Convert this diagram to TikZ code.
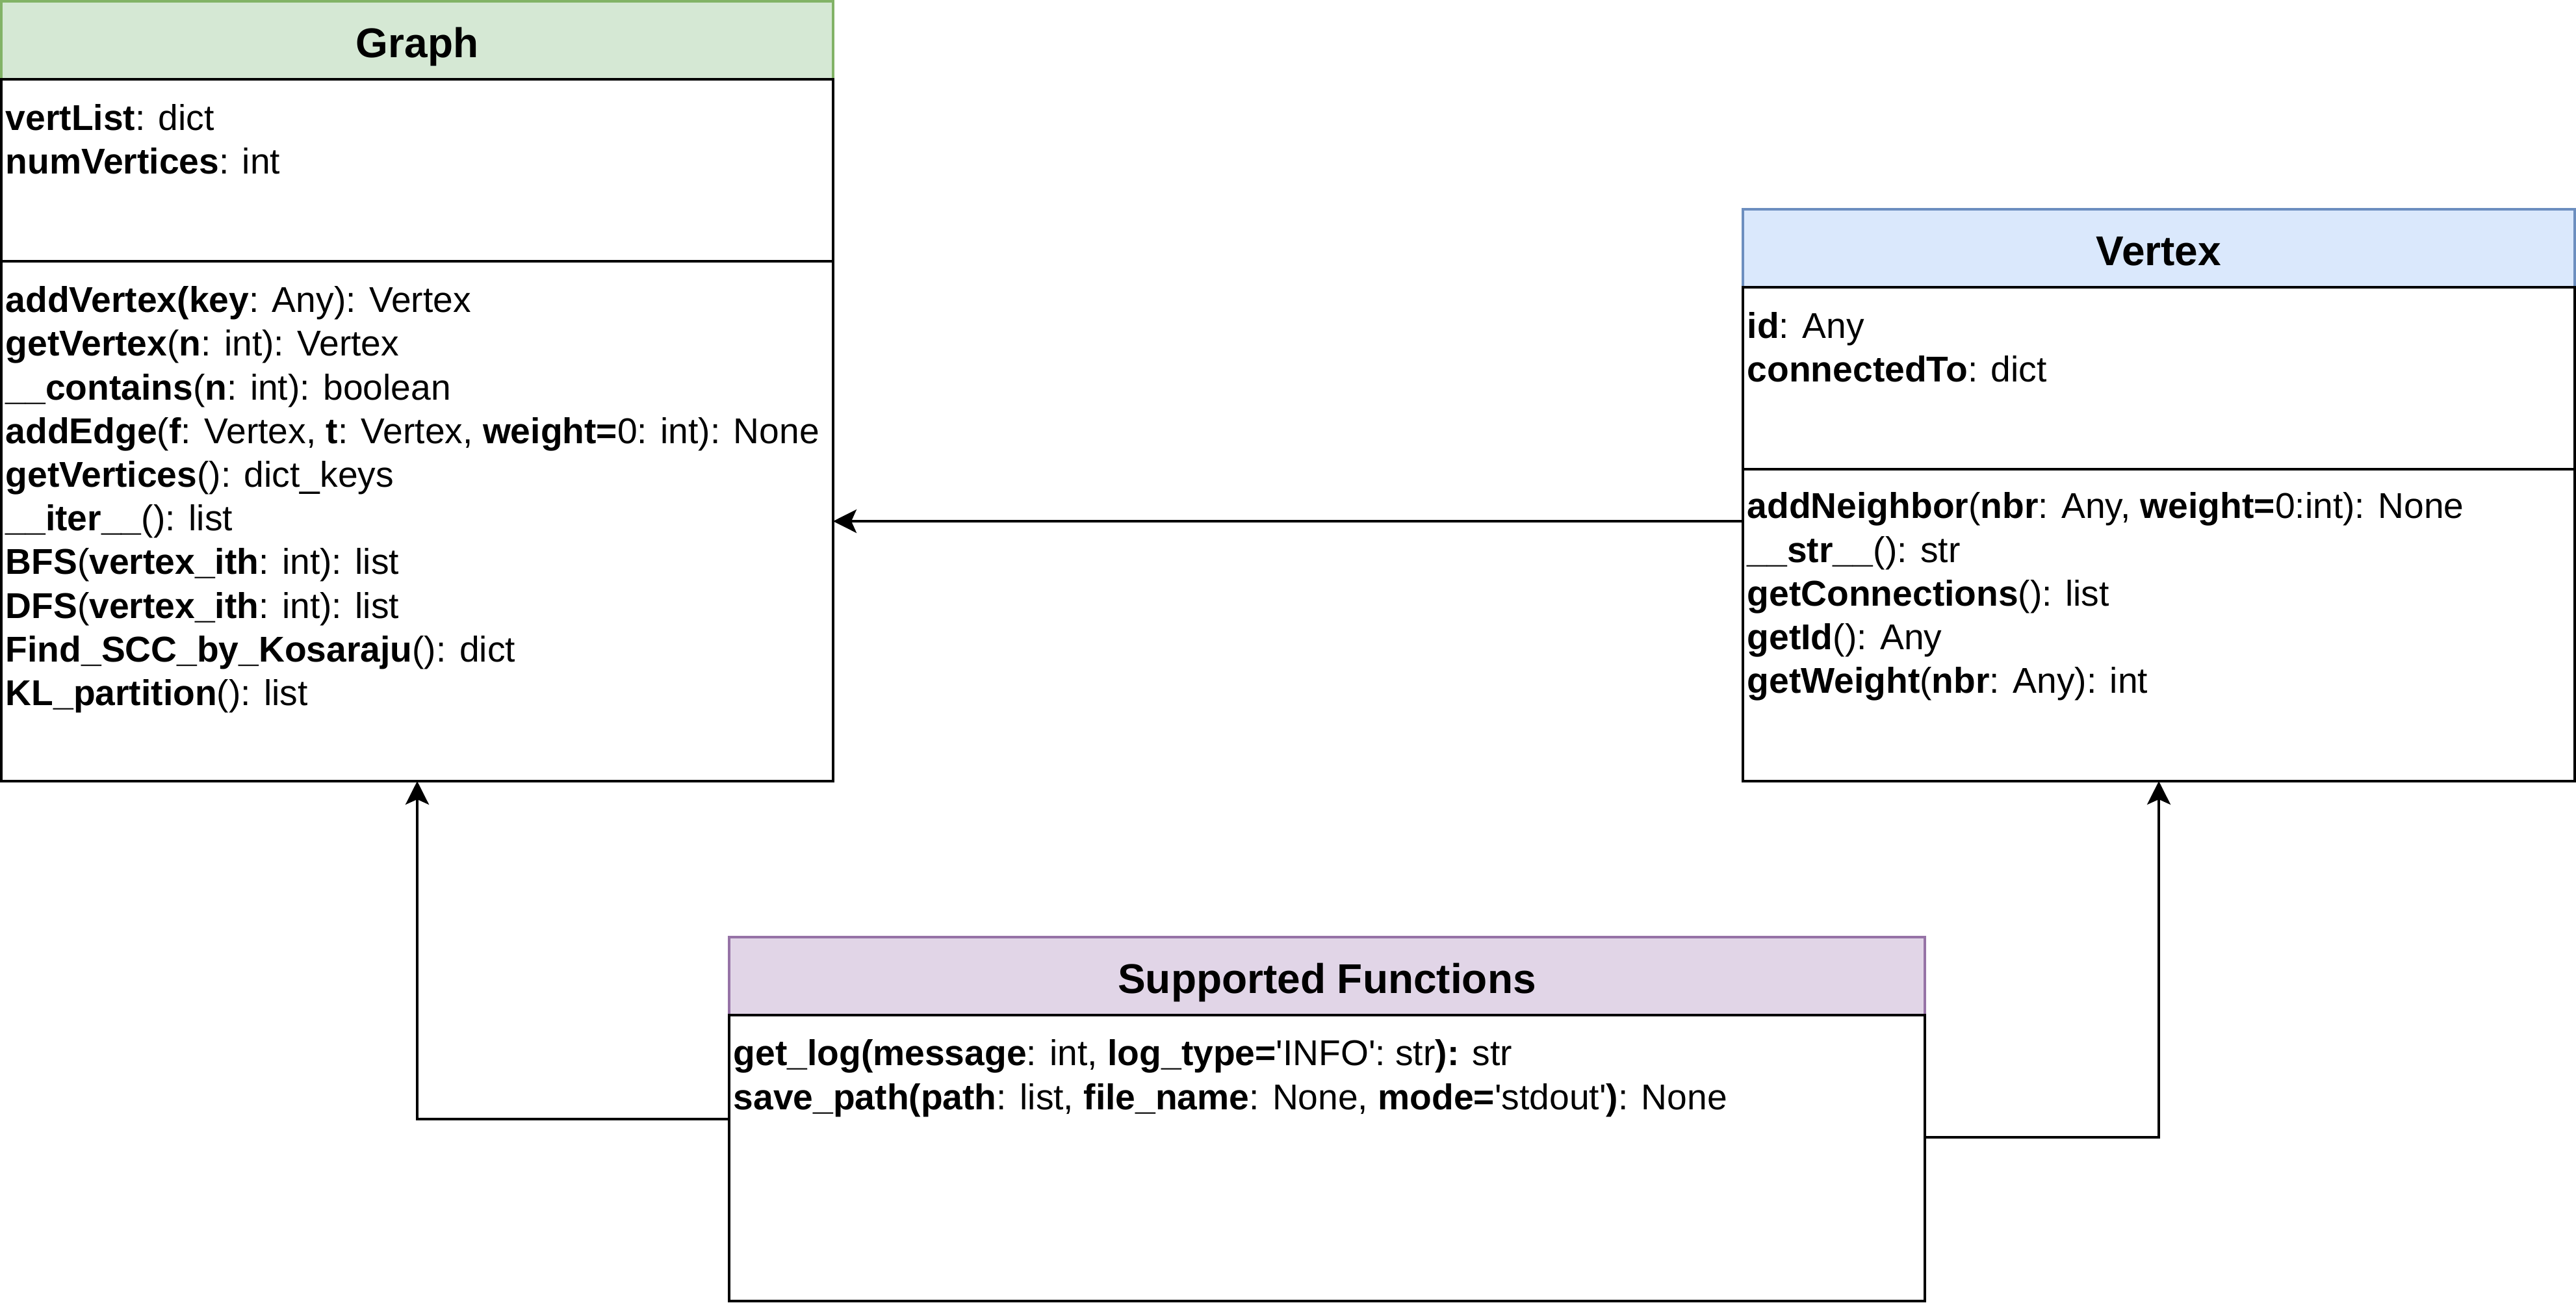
\documentclass[tikz,border=0pt]{standalone}
\usepackage{fontspec}
\setmainfont{Liberation Sans}
\usetikzlibrary{arrows.meta}

\definecolor{graphfill}{HTML}{D5E8D4}
\definecolor{graphline}{HTML}{82B366}
\definecolor{vertexfill}{HTML}{DAE8FC}
\definecolor{vertexline}{HTML}{6C8EBF}
\definecolor{funcsfill}{HTML}{E1D5E7}
\definecolor{funcsline}{HTML}{9673A6}

\tikzset{
  classhead/.style={rectangle, line width=1pt, outer sep=0pt, anchor=north west,
    minimum height=30pt, text height=14pt, text depth=1pt,
    font=\fontsize{16}{19.2}\selectfont\bfseries},
  classpart/.style={rectangle, draw, line width=1pt, outer sep=0pt, fill=white,
    anchor=north west},
  members/.style={anchor=north west, inner sep=0pt, align=left,
    font=\fontsize{13.8}{16.8}\selectfont},
  link/.style={line width=1pt, -{Stealth[length=9pt,width=9pt,inset=2pt]}}
}

\begin{document}
\begin{tikzpicture}[x=1pt,y=-1pt]
        \useasboundingbox (0,0) rectangle (991,501);

        \node[classhead, fill=graphfill, draw=graphline, minimum width=320pt] (graph)
             at (0.5,0.5) {Graph};
        \node[classpart, minimum width=320pt, minimum height=70pt] (graph-attrs)
             at (graph.south west) {};
        \node[classpart, minimum width=320pt, minimum height=200pt] (graph-methods)
             at (graph-attrs.south west) {};
        \node[members] (graph-attr-list) at ([shift={(1.5,7.7)}]graph-attrs.north west)
             {\strut\textbf{vertList}: dict\\
              \textbf{numVertices}: int};
        \node[members] (graph-method-list) at ([shift={(1.5,7.7)}]graph-methods.north west)
             {\strut\textbf{addVertex(key}: Any): Vertex\\
              \textbf{getVertex}(\textbf{n}: int): Vertex\\
              \textbf{\_\_contains}(\textbf{n}: int): boolean\\
              \textbf{addEdge}(\textbf{f}: Vertex, \textbf{t}: Vertex, \textbf{weight=}0: int): None\\
              \textbf{getVertices}(): dict\_keys\\
              \textbf{\_\_iter\_\_}(): list\\
              \textbf{BFS}(\textbf{vertex\_ith}: int): list\\
              \textbf{DFS}(\textbf{vertex\_ith}: int): list\\
              \textbf{Find\_SCC\_by\_Kosaraju}(): dict\\
              \textbf{KL\_partition}(): list};

        \node[classhead, fill=vertexfill, draw=vertexline, minimum width=320pt] (vertex)
             at (670.5,80.5) {Vertex};
        \node[classpart, minimum width=320pt, minimum height=70pt] (vertex-attrs)
             at (vertex.south west) {};
        \node[classpart, minimum width=320pt, minimum height=120pt] (vertex-methods)
             at (vertex-attrs.south west) {};
        \node[members] (vertex-attr-list) at ([shift={(1.5,7.7)}]vertex-attrs.north west)
             {\strut\textbf{id}: Any\\
              \textbf{connectedTo}: dict};
        \node[members] (vertex-method-list) at ([shift={(1.5,7)}]vertex-methods.north west)
             {\strut\textbf{addNeighbor}(\textbf{nbr}: Any, \textbf{weight=}0:int): None\\
              \textbf{\_\_str\_\_}(): str\\
              \textbf{getConnections}(): list\\
              \textbf{getId}(): Any\\
              \textbf{getWeight}(\textbf{nbr}: Any): int};

        \node[classhead, fill=funcsfill, draw=funcsline, minimum width=460pt] (funcs)
             at (280.5,360.5) {Supported Functions};
        \node[classpart, minimum width=460pt, minimum height=110pt] (funcs-body)
             at (funcs.south west) {};
        \node[members] (funcs-list) at ([shift={(1.5,7.5)}]funcs-body.north west)
             {\strut\textbf{get\_log(message}: int, \textbf{log\_type=}\textquotesingle INFO\textquotesingle: str\textbf{):} str\\
              \textbf{save\_path(path}: list, \textbf{file\_name}: None, \textbf{mode=}\textquotesingle stdout\textquotesingle\textbf{)}: None};

        \draw[link] (graph-methods.east -| vertex-methods.west) -- (graph-methods.east);
        \draw[link] ([yshift=15pt]funcs-body.west) -| (graph-methods.south);
        \draw[link] ([yshift=8pt]funcs-body.east) -| (vertex-methods.south);
\end{tikzpicture}
\end{document}
